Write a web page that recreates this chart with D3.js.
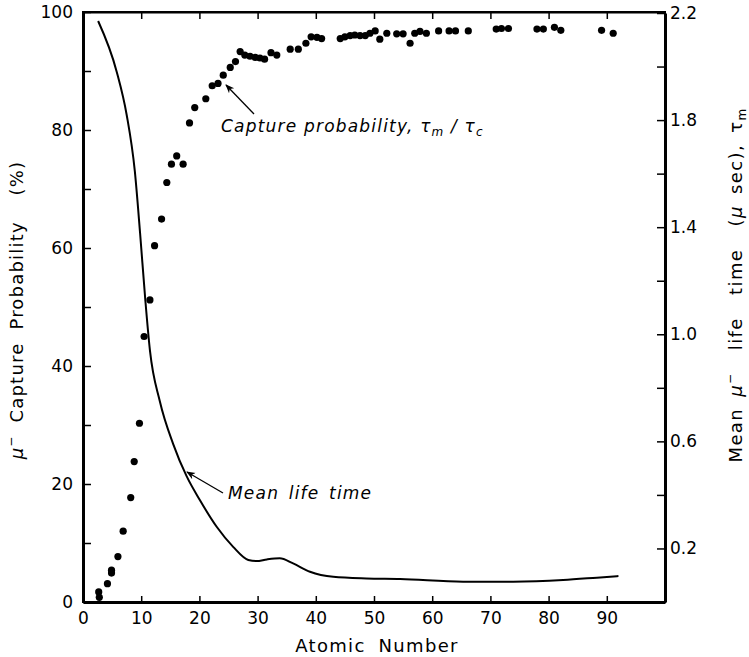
<!DOCTYPE html>
<html>
<head>
<meta charset="utf-8">
<script src="https://cdn.jsdelivr.net/npm/d3@7"></script>
<style>
  body { margin: 0; background: #fff; }
  svg { display: block; }
  text { font-family: "DejaVu Sans", sans-serif; fill: #000; white-space: pre; }
</style>
</head>
<body>
<svg id="chart"></svg>
<script>
const width = 749;
const height = 657;

// capture probability points: atomic number, percent
const captureZ = [2.7, 2.8, 4.2, 4.9, 4.9, 6.0, 6.9, 8.2, 8.8, 9.7, 10.5, 11.5, 12.3, 13.5, 14.4,
    15.2, 16.1, 17.2, 18.3, 19.2, 21.1, 22.2, 23.2, 24.1, 25.3, 26.2, 27.0, 27.8, 28.7, 29.6,
    30.4, 31.2, 32.3, 33.3, 35.6, 37.0, 38.3, 39.2, 40.2, 41.0, 44.2, 45.0, 45.9, 46.7, 47.6,
    48.5, 49.3, 50.2, 51.0, 52.2, 53.9, 55.0, 56.2, 57.0, 57.9, 59.0, 61.1, 62.9, 64.0, 66.2,
    71.0, 71.9, 73.1, 78.0, 79.1, 81.0, 82.1, 89.1, 91.1];
const captureP = [1.7, 0.8, 3.1, 5.4, 4.9, 7.7, 12.0, 17.7, 23.8, 30.3, 45.0, 51.2, 60.4, 64.9, 71.1,
    74.2, 75.6, 74.2, 81.2, 83.8, 85.3, 87.5, 87.9, 89.3, 90.6, 91.6, 93.3, 92.7, 92.5, 92.3,
    92.2, 92.0, 93.1, 92.7, 93.7, 93.7, 94.7, 95.8, 95.7, 95.5, 95.5, 95.8, 96.0, 96.1, 96.0,
    96.0, 96.4, 96.8, 95.4, 96.4, 96.3, 96.3, 94.7, 96.4, 96.7, 96.4, 96.8, 96.8, 96.8, 96.8,
    97.1, 97.2, 97.2, 97.1, 97.1, 97.4, 96.9, 96.9, 96.4];

// mean life time curve: atomic number, micro seconds
const lifeZ = [2.6, 5.8, 7.5, 8.9, 9.8, 10.7, 11.5, 13.2, 15.5, 17.8, 20.1, 23.0, 25.8, 28.4, 29.8,
    31.6, 33.8, 36.1, 39.0, 43.0, 48.7, 54.5, 65.3, 73.9, 82.5, 88.3, 92.0];
const lifeT = [2.17, 1.98, 1.82, 1.61, 1.38, 1.13, 0.94, 0.75, 0.59, 0.47, 0.38, 0.28, 0.206, 0.157, 0.153,
    0.159, 0.163, 0.144, 0.113, 0.094, 0.088, 0.086, 0.076, 0.076, 0.082, 0.091, 0.097];

const xTicks = [0, 10, 20, 30, 40, 50, 60, 70, 80, 90];
const leftTicks = [0, 10, 20, 30, 40, 50, 60, 70, 80, 90, 100];
const rightTicks = [0.2, 0.4, 0.6, 0.8, 1.0, 1.2, 1.4, 1.6, 1.8, 2.0, 2.2];
const rightLabels = [0.2, 0.6, 1.0, 1.4, 1.8, 2.2];

const x = d3.scaleLinear().domain([0, 100]).range([83, 665]);
const yL = d3.scaleLinear().domain([0, 100]).range([602, 12]);
const yR = d3.scaleLinear().domain([0, 2.2]).range([602, 13]);

const svg = d3.select("#chart").attr("width", width).attr("height", height);

// frame
svg.append("rect")
    .attr("x", x(0)).attr("y", yL(100))
    .attr("width", x(100) - x(0)).attr("height", yL(0) - yL(100))
    .attr("fill", "none").attr("stroke", "#000").attr("stroke-width", 2);

const axBottom = svg.append("g")
    .attr("transform", `translate(0,${yL(0)})`)
    .call(d3.axisBottom(x).tickValues(xTicks).tickSizeInner(-6).tickSizeOuter(0).tickPadding(10));

const axTop = svg.append("g")
    .attr("transform", `translate(0,${yL(100)})`)
    .call(d3.axisTop(x).tickValues(xTicks.slice(1)).tickSizeInner(-7).tickSizeOuter(0).tickFormat(""));

const axLeft = svg.append("g")
    .attr("transform", `translate(${x(0)},0)`)
    .call(d3.axisLeft(yL).tickValues(leftTicks).tickSizeInner(-8).tickSizeOuter(0).tickPadding(10)
        .tickFormat(d => d % 20 === 0 ? d : ""));

const axRight = svg.append("g")
    .attr("transform", `translate(${x(100)},0)`)
    .call(d3.axisRight(yR).tickValues(rightTicks).tickSizeInner(-8).tickSizeOuter(0).tickPadding(5)
        .tickFormat(d => rightLabels.some(v => Math.abs(v - d) < 1e-6) ? d.toFixed(1) : ""));

[axBottom, axLeft, axRight].forEach(g => {
    g.select(".domain").attr("stroke-width", 3);
    g.selectAll(".tick line").attr("stroke-width", 1.5);
    g.selectAll(".tick text").style("font-size", "17px").style("font-family", "DejaVu Sans, sans-serif");
});
axTop.select(".domain").attr("stroke-width", 2);
axTop.selectAll(".tick line").attr("stroke-width", 1.5);
axLeft.selectAll(".tick text").attr("dy", "0.3em");

// mean life curve
const line = d3.line()
    .x((d, i) => x(lifeZ[i]))
    .y(d => yR(d))
    .curve(d3.curveMonotoneX);

svg.append("path")
    .datum(lifeT)
    .attr("d", line)
    .attr("fill", "none")
    .attr("stroke", "#000")
    .attr("stroke-width", 2);

// capture points
svg.append("g")
    .selectAll("circle")
    .data(captureP)
    .join("circle")
    .attr("cx", (d, i) => x(captureZ[i]))
    .attr("cy", d => yL(d))
    .attr("r", 3.6)
    .attr("fill", "#000");

// arrows
const defs = svg.append("defs");
defs.append("marker")
    .attr("id", "arrow")
    .attr("viewBox", "0 0 10 10")
    .attr("refX", 9).attr("refY", 5)
    .attr("markerWidth", 9).attr("markerHeight", 9)
    .attr("markerUnits", "userSpaceOnUse")
    .attr("orient", "auto")
    .append("path")
    .attr("d", "M0,1 L10,5 L0,9 L3,5 Z")
    .attr("fill", "#000");

svg.append("line")
    .attr("x1", 254).attr("y1", 114).attr("x2", 226).attr("y2", 85)
    .attr("stroke", "#000").attr("stroke-width", 1.3).attr("marker-end", "url(#arrow)");
svg.append("line")
    .attr("x1", 223).attr("y1", 493).attr("x2", 187).attr("y2", 472)
    .attr("stroke", "#000").attr("stroke-width", 1.3).attr("marker-end", "url(#arrow)");

// annotations
const cap = svg.append("text")
    .attr("x", 221).attr("y", 132)
    .style("font-size", "17px").style("font-style", "italic").style("letter-spacing", "1.2px");
cap.append("tspan").text("Capture probability, τ");
cap.append("tspan").attr("dy", 4).style("font-size", "12px").text("m");
cap.append("tspan").attr("dy", -4).text(" / τ");
cap.append("tspan").attr("dy", 4).style("font-size", "12px").text("c");

svg.append("text")
    .attr("x", 228).attr("y", 499)
    .style("font-size", "17px").style("font-style", "italic").style("letter-spacing", "1.2px")
    .style("word-spacing", "3px")
    .text("Mean life time");

// axis titles
svg.append("text")
    .attr("x", 377).attr("y", 652)
    .attr("text-anchor", "middle")
    .style("font-size", "18px").style("letter-spacing", "1.3px").style("word-spacing", "6px")
    .text("Atomic Number");

const lt = svg.append("text")
    .attr("transform", "translate(23,310) rotate(-90)")
    .attr("text-anchor", "middle")
    .style("font-size", "18px").style("letter-spacing", "1.2px").style("word-spacing", "6px");
lt.append("tspan").style("font-style", "italic").text("μ");
lt.append("tspan").attr("dy", -8).style("font-size", "12px").text("−");
lt.append("tspan").attr("dy", 8).text(" Capture Probability  (%)");

const rt = svg.append("text")
    .attr("transform", "translate(742,285) rotate(-90)")
    .attr("text-anchor", "middle")
    .style("font-size", "18px").style("letter-spacing", "1.4px").style("word-spacing", "4px");
rt.append("tspan").text("Mean ");
rt.append("tspan").style("font-style", "italic").text("μ");
rt.append("tspan").attr("dy", -8).style("font-size", "12px").text("−");
rt.append("tspan").attr("dy", 8).text("  life  time  (");
rt.append("tspan").style("font-style", "italic").text("μ");
rt.append("tspan").text(" sec), τ");
rt.append("tspan").attr("dy", 4).style("font-size", "12px").text("m");
</script>
</body>
</html>
